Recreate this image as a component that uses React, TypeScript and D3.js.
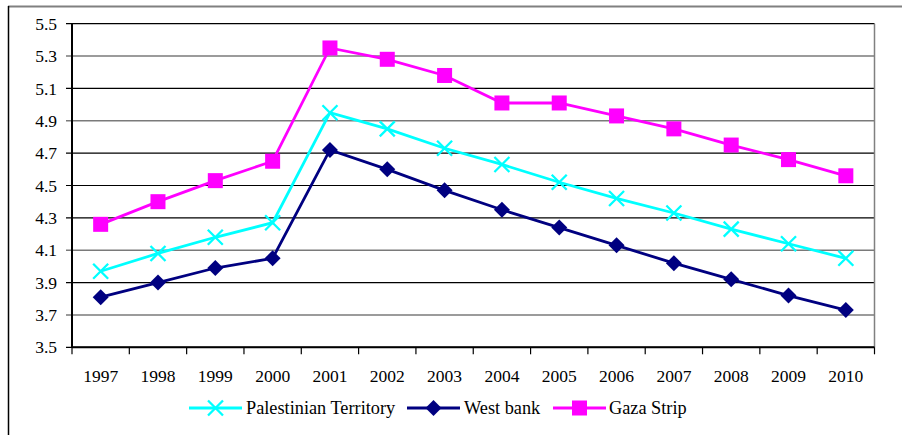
import React from "react";
import { scaleBand, scaleLinear, line, range } from "d3";

const years = ["1997", "1998", "1999", "2000", "2001", "2002", "2003", "2004", "2005", "2006", "2007", "2008", "2009", "2010"];
const palestinianTerritory = [3.97, 4.08, 4.18, 4.27, 4.95, 4.85, 4.73, 4.63, 4.52, 4.42, 4.33, 4.23, 4.14, 4.05];
const westBank = [3.81, 3.9, 3.99, 4.05, 4.72, 4.6, 4.47, 4.35, 4.24, 4.13, 4.02, 3.92, 3.82, 3.73];
const gazaStrip = [4.26, 4.4, 4.53, 4.65, 5.35, 5.28, 5.18, 5.01, 5.01, 4.93, 4.85, 4.75, 4.66, 4.56];
const yTicks = ["3.5", "3.7", "3.9", "4.1", "4.3", "4.5", "4.7", "4.9", "5.1", "5.3", "5.5"];

const seriesList = [
  { name: "Palestinian Territory", values: palestinianTerritory, color: "#00FFFF", marker: "x" },
  { name: "West bank", values: westBank, color: "#000080", marker: "diamond" },
  { name: "Gaza Strip", values: gazaStrip, color: "#FF00FF", marker: "square" },
];

const W = 902;
const H = 435;
const plot = { left: 72, right: 874.5, top: 23.7, bottom: 347.3 };
const FONT = "'Liberation Serif', 'DejaVu Serif', serif";

function Marker({ type, x, y, color }: { type: string; x: number; y: number; color: string }) {
  if (type === "square") {
    return <rect x={x - 7.5} y={y - 7.5} width={15} height={15} fill={color} />;
  }
  if (type === "diamond") {
    return <path d={`M${x},${y - 8}L${x + 8},${y}L${x},${y + 8}L${x - 8},${y}Z`} fill={color} />;
  }
  return (
    <path
      d={`M${x - 7.5},${y - 7.5}L${x + 7.5},${y + 7.5}M${x - 7.5},${y + 7.5}L${x + 7.5},${y - 7.5}`}
      stroke={color}
      strokeWidth={2.3}
      fill="none"
    />
  );
}

export default function App() {
  const x = scaleBand<string>().domain(years).range([plot.left, plot.right]);
  const y = scaleLinear().domain([3.5, 5.5]).range([plot.bottom, plot.top]);
  const cx = (yr: string) => (x(yr) as number) + x.bandwidth() / 2;

  // legend placement (line start, text start)
  const legendItems = [
    { lineX: 189, textX: 246 },
    { lineX: 407, textX: 464 },
    { lineX: 553, textX: 609 },
  ];
  const legendY = 408;

  return (
    <svg width={W} height={H} style={{ position: "absolute", left: 0, top: 0, background: "#fff" }}>
      {/* frame */}
      <line x1={8} x2={W} y1={6.5} y2={6.5} stroke="#808080" strokeWidth={2} />
      <line x1={8.5} x2={8.5} y1={6} y2={H} stroke="#000" strokeWidth={1.5} />

      {/* gridlines + y labels */}
      {yTicks.map((t, i) => (
        <g key={t}>
          <line
            x1={66}
            x2={plot.right}
            y1={y(+t)}
            y2={y(+t)}
            stroke={i % 2 === 0 || i === 5 ? "#000" : "#7a7a7a"}
            strokeWidth={i % 2 === 0 || i === 5 ? 1.2 : 1.6}
          />
          <text x={57} y={y(+t)} dy="0.35em" textAnchor="end" fontSize={17.5} fontFamily={FONT} fill="#000">
            {t}
          </text>
        </g>
      ))}

      {/* axes */}
      <line x1={plot.left} x2={plot.left} y1={plot.top} y2={plot.bottom} stroke="#000" strokeWidth={2} />
      <line x1={plot.right} x2={plot.right} y1={plot.top} y2={plot.bottom} stroke="#808080" strokeWidth={1.5} />
      <line x1={plot.left} x2={plot.right} y1={plot.bottom} y2={plot.bottom} stroke="#000" strokeWidth={2} />
      {range(years.length + 1).map((i) => {
        const px = plot.left + i * x.bandwidth();
        return <line key={i} x1={px} x2={px} y1={plot.bottom} y2={plot.bottom + 7} stroke="#000" strokeWidth={1.2} />;
      })}
      {years.map((yr) => (
        <text key={yr} x={cx(yr)} y={382} textAnchor="middle" fontSize={17.5} fontFamily={FONT} fill="#000">
          {yr}
        </text>
      ))}

      {/* series */}
      {seriesList.map((s) => {
        const path = line<number>()
          .x((_, i) => cx(years[i]))
          .y((v) => y(v))(s.values);
        return (
          <g key={s.name}>
            <path d={path || ""} fill="none" stroke={s.color} strokeWidth={2.8} />
            {s.values.map((v, i) => (
              <Marker key={i} type={s.marker} x={cx(years[i])} y={y(v)} color={s.color} />
            ))}
          </g>
        );
      })}

      {/* legend */}
      {seriesList.map((s, i) => {
        const li = legendItems[i];
        return (
          <g key={s.name}>
            <line x1={li.lineX} x2={li.lineX + 53} y1={legendY} y2={legendY} stroke={s.color} strokeWidth={2.8} />
            <Marker type={s.marker} x={li.lineX + 26.5} y={legendY} color={s.color} />
            <text x={li.textX} y={legendY} dy="0.35em" fontSize={18.3} fontFamily={FONT} fill="#000">
              {s.name}
            </text>
          </g>
        );
      })}
    </svg>
  );
}
